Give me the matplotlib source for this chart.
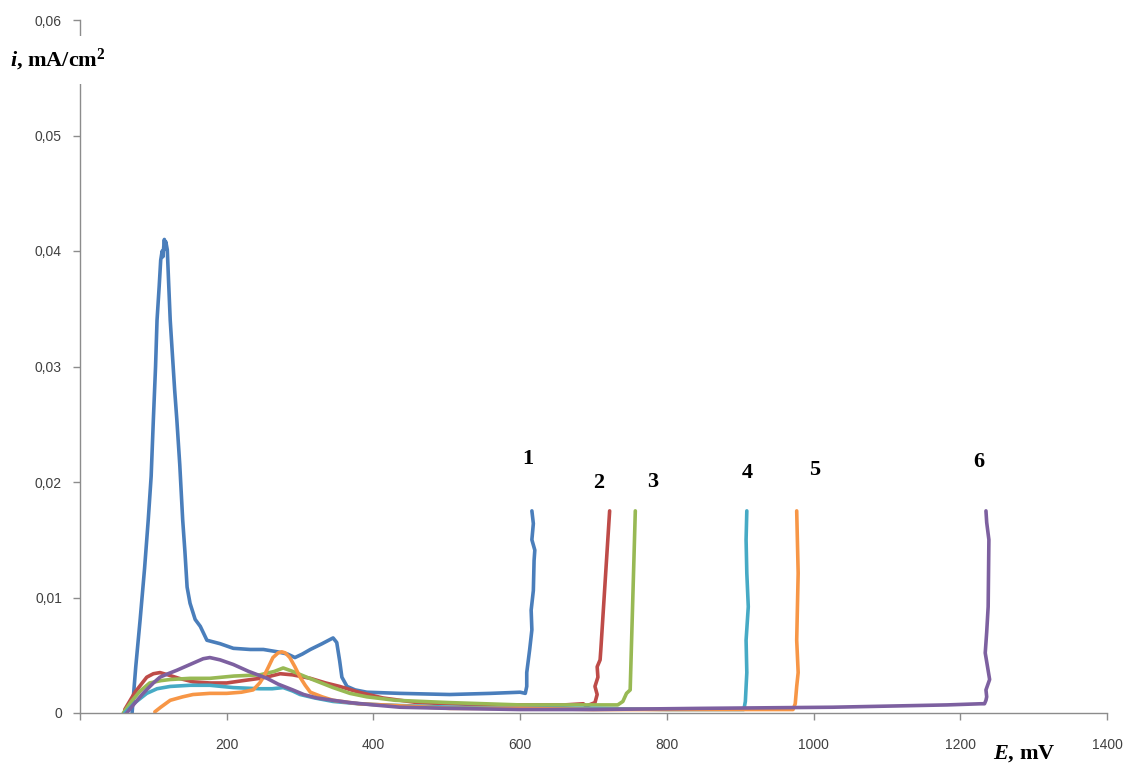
import matplotlib
matplotlib.use("Agg")
import matplotlib.pyplot as plt

# ---- data (E in mV, i in mA/cm2) ----
E1 = [68, 71, 76, 82, 88, 93, 97, 100, 103, 105, 108, 110, 112, 113, 115, 116, 117, 119, 121, 123,
      126, 129, 132, 136, 140, 143, 146, 150, 157, 164, 173, 191, 209, 232, 250, 269, 283, 293, 303,
      314, 330, 345, 350, 354, 357, 364, 375, 391, 436, 504, 560, 600, 607, 609, 609, 613, 616, 615,
      618, 619, 620, 616, 618, 616]
I1 = [-0.0016, 0.0000, 0.0040, 0.0081, 0.0125, 0.0167, 0.0205, 0.0254, 0.0300, 0.0340, 0.0370,
      0.0392, 0.0400, 0.0395, 0.0410, 0.0402, 0.0408, 0.0401, 0.0370, 0.0340, 0.0310, 0.0280, 0.0254,
      0.0215, 0.0167, 0.0140, 0.0109, 0.0095, 0.0081, 0.0075, 0.0063, 0.0060, 0.0056, 0.0055, 0.0055,
      0.0053, 0.0051, 0.0048, 0.0051, 0.0055, 0.0060, 0.0065, 0.0061, 0.0045, 0.0031, 0.0023, 0.0020,
      0.0018, 0.0017, 0.0016, 0.0017, 0.0018, 0.0017, 0.0023, 0.0035, 0.0055, 0.0072, 0.0089, 0.0106,
      0.0132, 0.0141, 0.0150, 0.0164, 0.0175]

E2 = [61, 75, 91, 100, 109, 120, 135, 154, 177, 200, 222, 245, 260, 273, 290, 314, 335, 354, 380,
      413, 460, 504, 560, 620, 660, 686, 690, 702, 705, 702, 706, 705, 709, 710, 722]
I2 = [0.0003, 0.0018, 0.0031, 0.0034, 0.0035, 0.0033, 0.0030, 0.0027, 0.0026, 0.0026, 0.0028,
      0.0030, 0.0032, 0.0034, 0.0033, 0.0030, 0.0026, 0.0023, 0.0018, 0.0013, 0.0009, 0.0008, 0.0007,
      0.0007, 0.0007, 0.0008, 0.0006, 0.0009, 0.0016, 0.0023, 0.0031, 0.0040, 0.0046, 0.0055, 0.0175]

E3 = [59, 70, 82, 95, 110, 123, 150, 177, 210, 245, 265, 277, 290, 309, 325, 345, 368, 391, 430,
      504, 600, 700, 733, 740, 745, 750, 757]
I3 = [0.0000, 0.0010, 0.0019, 0.0026, 0.0028, 0.0029, 0.0030, 0.0030, 0.0032, 0.0033, 0.0036,
      0.0039, 0.0036, 0.0031, 0.0027, 0.0022, 0.0017, 0.0014, 0.0011, 0.0009, 0.0007, 0.0007, 0.0007,
      0.0010, 0.0017, 0.0020, 0.0175]

E4 = [61, 75, 91, 105, 123, 150, 177, 209, 245, 262, 277, 290, 300, 320, 345, 380, 413, 504, 600,
      700, 800, 880, 905, 907, 909, 908, 911, 909, 908, 909]
I4 = [0.0000, 0.0009, 0.0017, 0.0021, 0.0023, 0.0024, 0.0024, 0.0022, 0.0021, 0.0021, 0.0022,
      0.0019, 0.0016, 0.0013, 0.0010, 0.0008, 0.0007, 0.0005, 0.0004, 0.0004, 0.0003, 0.0003, 0.0003,
      0.0010, 0.0035, 0.0063, 0.0092, 0.0121, 0.0150, 0.0175]

E5 = [102, 110, 123, 140, 154, 177, 200, 220, 236, 245, 250, 257, 263, 270, 275, 280, 286, 293,
      300, 307, 314, 330, 345, 380, 413, 504, 600, 700, 800, 900, 972, 975, 977, 979, 977, 979, 977]
I5 = [0.0001, 0.0005, 0.0011, 0.0014, 0.0016, 0.0017, 0.0017, 0.0018, 0.0020, 0.0026, 0.0031,
      0.0040, 0.0048, 0.0052, 0.0053, 0.0052, 0.0048, 0.0040, 0.0031, 0.0024, 0.0018, 0.0014, 0.0011,
      0.0008, 0.0007, 0.0004, 0.0004, 0.0003, 0.0003, 0.0003, 0.0003, 0.0008, 0.0023, 0.0035, 0.0063,
      0.0121, 0.0175]

E6 = [59, 70, 86, 100, 109, 120, 132, 150, 168, 177, 191, 209, 230, 255, 270, 290, 305, 323, 345,
      368, 400, 436, 504, 600, 700, 845, 1026, 1182, 1228, 1233, 1235, 1236, 1235, 1240, 1234, 1236,
      1238, 1239, 1236, 1235]
I6 = [-0.0004, 0.0005, 0.0017, 0.0026, 0.0031, 0.0034, 0.0037, 0.0042, 0.0047, 0.0048, 0.0046,
      0.0042, 0.0036, 0.0030, 0.0025, 0.0020, 0.0016, 0.0013, 0.0011, 0.0009, 0.0007, 0.0005, 0.0004,
      0.0003, 0.0003, 0.0004, 0.0005, 0.0007, 0.0008, 0.0008, 0.0011, 0.0014, 0.0020, 0.0029, 0.0052,
      0.0070, 0.0092, 0.0150, 0.0165, 0.0175]

series_x = [E1, E2, E3, E4, E5, E6]
series_y = [I1, I2, I3, I4, I5, I6]
curve_names = ["1", "2", "3", "4", "5", "6"]
label_E = [611, 707, 781, 909, 1002, 1225]
label_I = [0.0220, 0.0199, 0.0200, 0.0208, 0.0210, 0.0217]

x_ticks = [0, 200, 400, 600, 800, 1000, 1200, 1400]
x_ticklabels = ["", "200", "400", "600", "800", "1000", "1200", "1400"]
y_ticks = [0, 0.01, 0.02, 0.03, 0.04, 0.05, 0.06]
y_ticklabels = ["0", "0,01", "0,02", "0,03", "0,04", "0,05", "0,06"]

colors = ["#4A7EBB", "#BE4B48", "#98B954", "#46AAC5", "#F79646", "#7D60A0"]

plt.rcParams["mathtext.fontset"] = "custom"
plt.rcParams["mathtext.rm"] = "Liberation Serif:bold"
plt.rcParams["mathtext.bf"] = "Liberation Serif:bold"
plt.rcParams["mathtext.it"] = "Liberation Serif:bold:italic"

W, H = 1131, 767
fig = plt.figure(figsize=(W / 100, H / 100), dpi=100)
ax = fig.add_axes([80 / W, (H - 713) / H, (1107 - 80) / W, (713 - 20) / H])

for xs, ys, c in zip(series_x, series_y, colors):
    ax.plot(xs, ys, color=c, lw=2.6, solid_joinstyle="round", solid_capstyle="round")

for name, xe, yi in zip(curve_names, label_E, label_I):
    ax.text(xe, yi, name, fontsize=16, fontweight="bold", family="Liberation Serif",
            ha="center", va="center", color="black")

ax.set_xlim(0, 1400)
ax.set_ylim(0, 0.06)
ax.set_xticks(x_ticks)
ax.set_xticklabels(x_ticklabels)
ax.set_yticks(y_ticks)
ax.set_yticklabels(y_ticklabels)

for s in ["top", "right"]:
    ax.spines[s].set_visible(False)
for s in ["left", "bottom"]:
    ax.spines[s].set_color("#8C8C8C")
    ax.spines[s].set_linewidth(1.0)
ax.tick_params(axis="both", direction="out", length=5, width=1.0, color="#8C8C8C",
               labelcolor="#404040", labelsize=10)
ax.tick_params(axis="x", pad=13)
ax.tick_params(axis="y", pad=8)
for lbl in ax.get_xticklabels() + ax.get_yticklabels():
    lbl.set_family("Liberation Sans")

fig.text(10 / W, 1 - 60 / H, r"$\mathit{i}$, mA/cm$^{2}$", fontsize=16, fontweight="bold",
         family="Liberation Serif", ha="left", va="center", color="black",
         bbox=dict(facecolor="white", edgecolor="none", pad=8))
fig.text(993 / W, 1 - 754 / H, r"$\mathit{E}$, mV", fontsize=16, fontweight="bold",
         family="Liberation Serif", ha="left", va="center", color="black")

fig.savefig("out.png", dpi=100)
